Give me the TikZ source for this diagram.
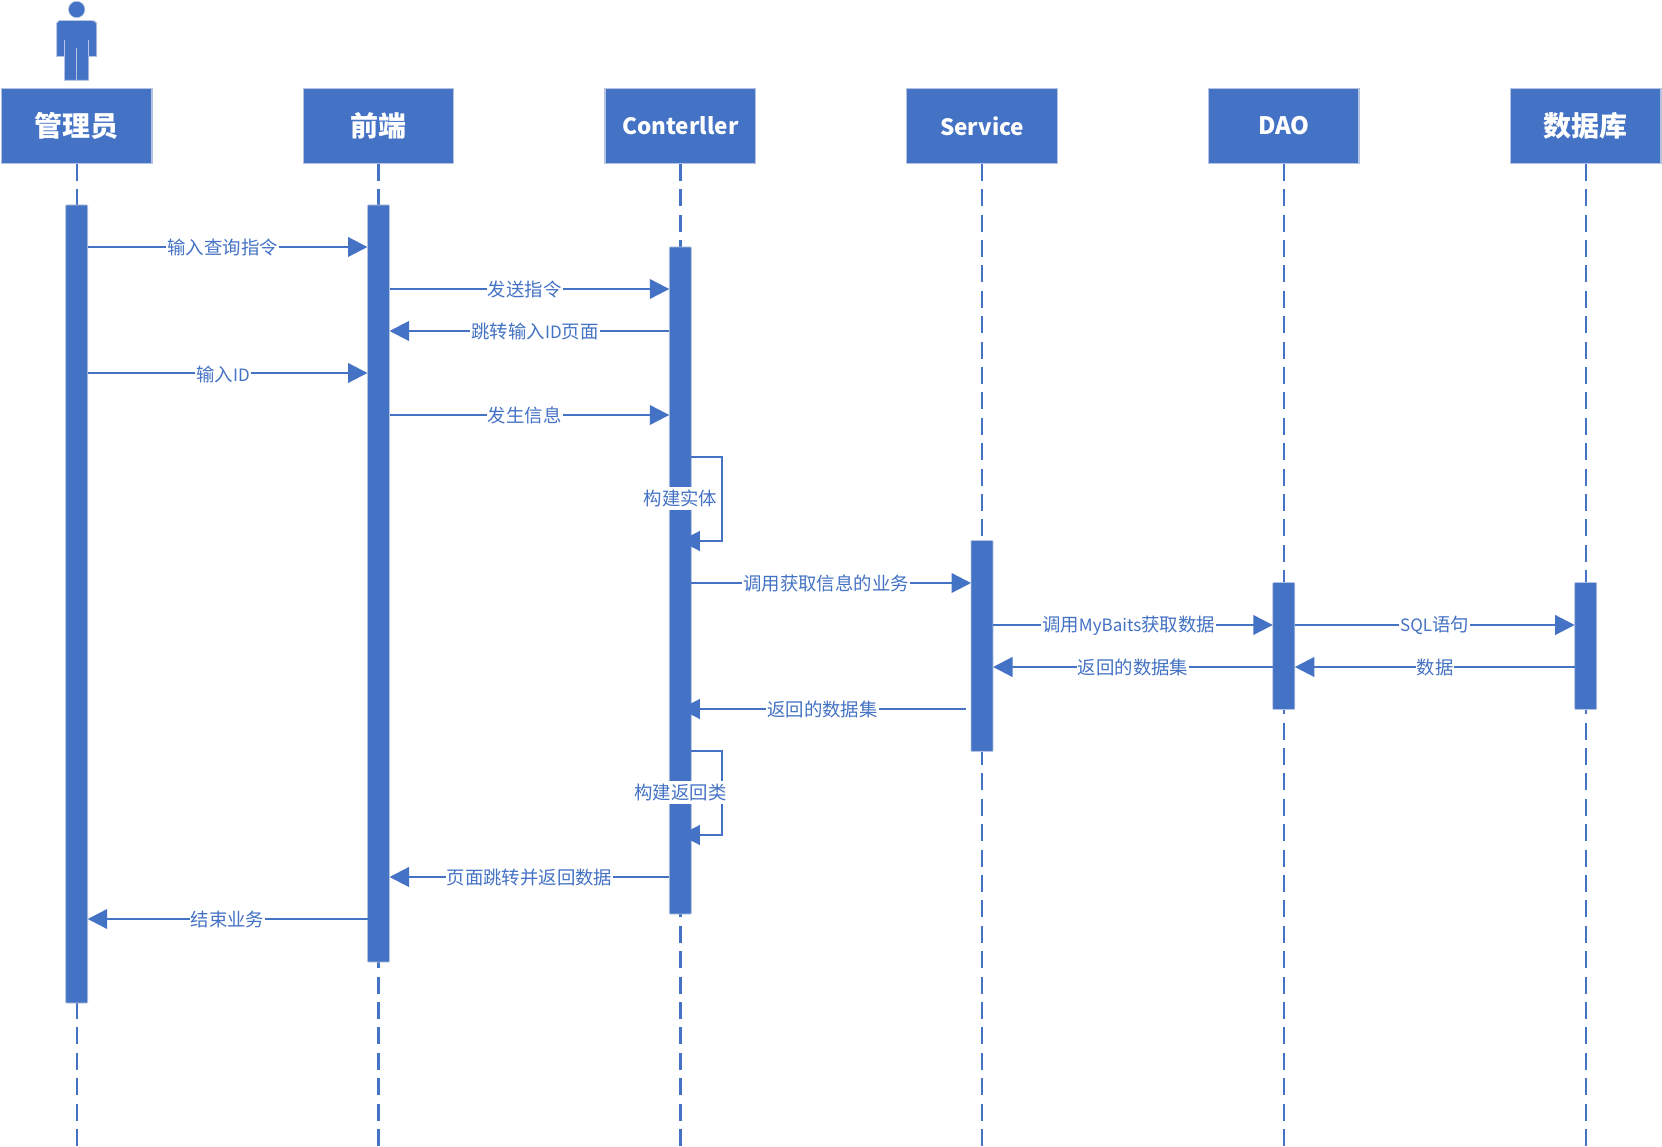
\documentclass[tikz,border=0pt]{standalone}
\usepackage{fontspec}
\setmainfont{Noto Sans CJK SC}
\usetikzlibrary{arrows.meta}
\definecolor{umlblue}{HTML}{4472C4}
\definecolor{umledge}{HTML}{B4C3DF}
\newcommand{\latpart}[1]{{\fontsize{17}{20}\selectfont #1}}
\tikzset{
  head/.style={draw=umledge,line width=1.2pt,fill=umlblue,text=white,minimum width=150.5pt,minimum height=75.5pt,inner sep=0pt,outer sep=0pt,font=\fontsize{28}{28}\selectfont\bfseries},
  headlat/.style={head,font=\fontsize{22.5}{24}\selectfont\bfseries},
  headdao/.style={head,font=\fontsize{24}{24}\selectfont\bfseries},
  life/.style={draw=umlblue,line width=2.4pt,dash pattern=on 17pt off 8.4pt},
  bar/.style={draw=umledge,line width=0.8pt,fill=umlblue,minimum width=22pt,inner sep=0pt,outer sep=0pt,rounded corners=0.8pt},
  msg/.style={draw=umlblue,line width=2.3pt,-{Triangle[length=19.5pt,width=19.5pt,fill=umlblue]}},
  lbl/.style={fill=white,text=umlblue,inner xsep=1pt,inner ysep=1pt,font=\fontsize{18.4}{20}\selectfont},
  lblbar/.style={lbl,inner ysep=3pt},
}
\begin{document}
\begin{tikzpicture}[x=1pt,y=-1pt]
\useasboundingbox (0,0) rectangle (1662,1147);
% actor
\fill[umlblue,draw=umledge,line width=0.6pt] (76.7,9.5) circle (8.2);
\path[fill=umlblue,draw=umledge,line width=0.6pt,rounded corners=2.5pt]
  (59,20.7) -- (94.4,20.7) -- (96.7,23) [sharp corners] -- (96.7,56.5) -- (88.7,56.5) -- (88.7,80.3) -- (64.5,80.3) -- (64.5,56.5) -- (56.7,56.5) -- (56.7,23) -- cycle;
\draw[umledge,line width=0.7pt] (64.5,40) -- (64.5,56.5) (88.7,40) -- (88.7,56.5) (76.7,48) -- (76.7,80.3);
% headers
\node[head] (h1) at (76.7,126) {管理员};
\node[head] (h2) at (378.5,126) {前端};
\node[headlat] (h3) at (680.3,126) {Conterller};
\node[headlat] (h4) at (982,126) {Service};
\node[headdao] (h5) at (1283.8,126) {DAO};
\node[head] (h6) at (1585.7,126) {数据库};
% lifeline ends
\coordinate (e1) at (76.7,1147);
\coordinate (e2) at (378.5,1147);
\coordinate (e3) at (680.3,1147);
\coordinate (e4) at (982,1147);
\coordinate (e5) at (1283.8,1147);
\coordinate (e6) at (1585.7,1147);
\foreach \i in {1,...,6} \draw[life] (h\i.south) -- (e\i);
% activation bars
\node[bar,minimum height=798pt] (a1) at (76.7,604) {};
\node[bar,minimum height=757pt] (a2) at (378.5,583.5) {};
\node[bar,minimum height=667pt] (a3) at (680.3,580.5) {};
\node[bar,minimum height=211pt] (a4) at (982,646) {};
\node[bar,minimum height=127pt] (a5) at (1283.8,646) {};
\node[bar,minimum height=127pt] (a6) at (1585.7,646) {};
% row heights
\foreach \n/\y in {r1/247,r2/289,r3/331,r4/373,r5/415,r6/457,r7/499,r8/541,r9/583,r10/625,r11/667,r12/709,r13/751,r14/793,r15/835,r16/877,r17/919}
  \coordinate (\n) at (0,\y);
\coordinate (ret) at (965.7,709);
\coordinate (l1a) at (722,457);
\coordinate (l1b) at (722,541);
\coordinate (l2a) at (722,751);
\coordinate (l2b) at (722,835);
% messages
\draw[msg] (a1.east |- r1) -- (a2.west |- r1);
\draw[msg] (a2.east |- r2) -- (a3.west |- r2);
\draw[msg] (a3.west |- r3) -- (a2.east |- r3);
\draw[msg] (a1.east |- r4) -- (a2.west |- r4);
\draw[msg] (a2.east |- r5) -- (a3.west |- r5);
\draw[msg] (a3.east |- r6) -- (l1a) -- (l1b) -- (a3.center |- r8);
\draw[msg] (a3.east |- r9) -- (a4.west |- r9);
\draw[msg] (a4.east |- r10) -- (a5.west |- r10);
\draw[msg] (a5.east |- r10) -- (a6.west |- r10);
\draw[msg] (a5.west |- r11) -- (a4.east |- r11);
\draw[msg] (a6.west |- r11) -- (a5.east |- r11);
\draw[msg] (ret) -- (a3.center |- r12);
\draw[msg] (a3.east |- r13) -- (l2a) -- (l2b) -- (a3.center |- r15);
\draw[msg] (a3.west |- r16) -- (a2.east |- r16);
\draw[msg] (a2.west |- r17) -- (a1.east |- r17);
% labels
\node[lbl] (t1) at (222.6,248) {输入查询指令};
\node[lbl] (t2) at (524.7,290) {发送指令};
\node[lbl] (t3) at (535,332) {跳转输入\latpart{ID}页面};
\node[lbl] (t4) at (223,374) {输入\latpart{ID}};
\node[lbl] (t5) at (524.7,415.2) {发生信息};
\node[lblbar] (t6) at (680.5,498.8) {构建实体};
\node[lbl] (t7) at (826,583.2) {调用获取信息的业务};
\node[lbl] (t8) at (1128.5,625.5) {调用\latpart{MyBaits}获取数据};
\node[lbl] (t9) at (1434.5,625.5) {\latpart{SQL}语句};
\node[lbl] (t10) at (1133,667.5) {返回的数据集};
\node[lbl] (t11) at (1435,667.5) {数据};
\node[lbl] (t12) at (822.5,709.2) {返回的数据集};
\node[lblbar] (t13) at (680.5,792.5) {构建返回类};
\node[lbl] (t14) at (529.5,877.5) {页面跳转并返回数据};
\node[lbl] (t15) at (227.5,919.2) {结束业务};
\end{tikzpicture}
\end{document}
